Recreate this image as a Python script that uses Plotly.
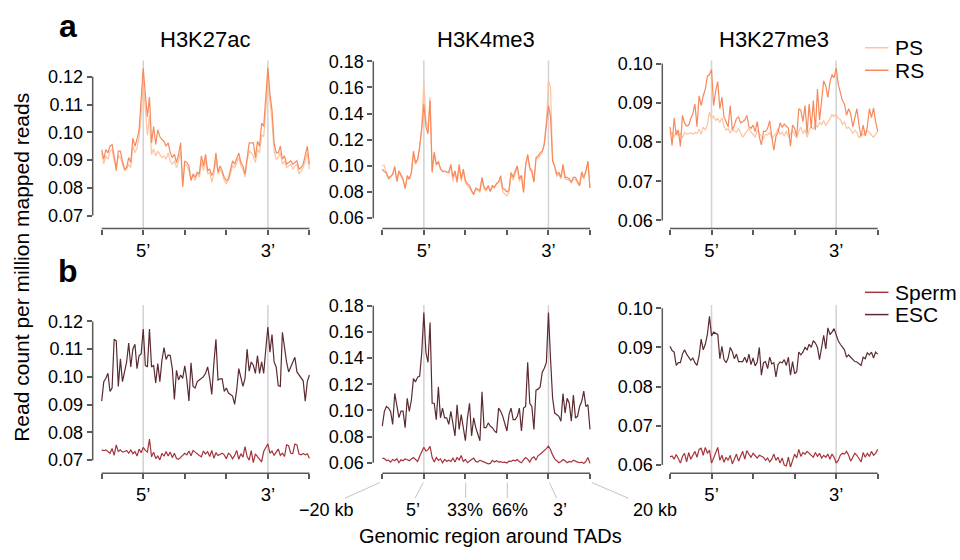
import numpy as np
import plotly.graph_objects as go

# Profiles are sampled on 101 bins: bin 0 = -20 kb, bin 20 = TAD 5' boundary,
# bin 40 / 60 = 33% / 66% of the TAD body, bin 80 = 3' boundary, bin 100 = +20 kb.
bins = [0, 20, 40, 60, 80, 100]
marks = ["", "5\u2019", "", "", "3\u2019", ""]

marks_names = ["H3K27ac", "H3K4me3", "H3K27me3"]

# ---- panel a: spermatocytes (PS) and round spermatids (RS) ----
h3k27ac_ps = [0.0926, 0.0885, 0.0915, 0.0903, 0.0932, 0.0938, 0.0897, 0.0873, 0.0915, 0.0909,
              0.0885, 0.0862, 0.0867, 0.0885, 0.0873, 0.0950, 0.0926, 0.0944, 0.0980, 0.1060,
              0.1180,
              0.1090, 0.0990, 0.1060, 0.0920, 0.0940, 0.0915, 0.0932, 0.0920, 0.0909, 0.0915,
              0.0903, 0.0926, 0.0897, 0.0885, 0.0897, 0.0873, 0.0897, 0.0932, 0.0815, 0.0885,
              0.0879, 0.0862, 0.0832, 0.0844, 0.0826, 0.0850, 0.0838, 0.0891, 0.0862, 0.0903,
              0.0850, 0.0856, 0.0820, 0.0850, 0.0903, 0.0850, 0.0867, 0.0850, 0.0826, 0.0815,
              0.0826, 0.0850, 0.0879, 0.0873, 0.0891, 0.0909, 0.0879, 0.0867, 0.0838, 0.0897,
              0.0932, 0.0926, 0.0915, 0.0891, 0.0938, 0.0926, 0.0990, 0.0985, 0.1080, 0.1200,
              0.1110, 0.1040, 0.0932, 0.0903, 0.0909, 0.0926, 0.0885, 0.0897, 0.0873, 0.0879,
              0.0885, 0.0867, 0.0879, 0.0885, 0.0850, 0.0862, 0.0873, 0.0897, 0.0926, 0.0867]
h3k27ac_rs = [0.0938, 0.0903, 0.0938, 0.0926, 0.0950, 0.0956, 0.0915, 0.0862, 0.0932, 0.0932,
              0.0897, 0.0867, 0.0873, 0.0909, 0.0891, 0.0979, 0.0950, 0.0974, 0.1009, 0.1103,
              0.1231,
              0.1139, 0.1056, 0.1127, 0.0962, 0.1021, 0.0956, 0.1009, 0.0985, 0.0974, 0.0968,
              0.0950, 0.0962, 0.0926, 0.0909, 0.0921, 0.0891, 0.0921, 0.0962, 0.0803, 0.0897,
              0.0891, 0.0879, 0.0826, 0.0850, 0.0838, 0.0856, 0.0850, 0.0915, 0.0879, 0.0921,
              0.0862, 0.0867, 0.0844, 0.0862, 0.0926, 0.0856, 0.0879, 0.0862, 0.0838, 0.0826,
              0.0832, 0.0862, 0.0897, 0.0885, 0.0909, 0.0926, 0.0891, 0.0879, 0.0850, 0.0915,
              0.0962, 0.0962, 0.0962, 0.0909, 0.0968, 0.0950, 0.1033, 0.1021, 0.1115, 0.1233,
              0.1139, 0.1080, 0.0962, 0.0926, 0.0926, 0.0950, 0.0903, 0.0915, 0.0885, 0.0891,
              0.0897, 0.0885, 0.0891, 0.0897, 0.0867, 0.0873, 0.0885, 0.0915, 0.0950, 0.0885]

h3k4me3_ps = [0.1000, 0.1005, 0.0930, 0.0900, 0.0915, 0.0930, 0.0990, 0.0885, 0.0950, 0.0920,
              0.0890, 0.0830, 0.0915, 0.0895, 0.0940, 0.1090, 0.1010, 0.1040, 0.1140, 0.1300,
              0.1650,
              0.1350, 0.1280, 0.1525, 0.0960, 0.1090, 0.1000, 0.1040, 0.0975, 0.0960, 0.0955,
              0.0950, 0.0945, 0.1000, 0.0880, 0.0955, 0.0870, 0.0990, 0.0880, 0.0960, 0.0870,
              0.0845, 0.0830, 0.0800, 0.0785, 0.0820, 0.0810, 0.0800, 0.0900, 0.0820, 0.0810,
              0.0840, 0.0800, 0.0840, 0.0830, 0.0870, 0.0880, 0.0890, 0.0800, 0.0785, 0.0770,
              0.0800, 0.0940, 0.0890, 0.0940, 0.0990, 0.0880, 0.0930, 0.0790, 0.1020, 0.1070,
              0.0970, 0.0950, 0.0880, 0.1050, 0.1060, 0.1080, 0.1100, 0.1180, 0.1340, 0.1650,
              0.1600, 0.1050, 0.0990, 0.0920, 0.0935, 0.0900, 0.0990, 0.0900, 0.0895, 0.0890,
              0.0870, 0.0900, 0.0895, 0.0870, 0.0845, 0.0935, 0.0900, 0.0950, 0.1020, 0.0830]
h3k4me3_rs = [0.0975, 0.0955, 0.0950, 0.0905, 0.0920, 0.0937, 0.0995, 0.0880, 0.0962, 0.0925,
              0.0900, 0.0825, 0.0925, 0.0900, 0.0950, 0.1112, 0.1025, 0.1050, 0.1150, 0.1287,
              0.1470,
              0.1300, 0.1245, 0.1500, 0.0950, 0.1105, 0.1012, 0.1030, 0.0980, 0.0955, 0.0962,
              0.0955, 0.0950, 0.1012, 0.0912, 0.0962, 0.0880, 0.1012, 0.0900, 0.0975, 0.0887,
              0.0862, 0.0850, 0.0812, 0.0780, 0.0830, 0.0820, 0.0812, 0.0912, 0.0837, 0.0820,
              0.0850, 0.0805, 0.0850, 0.0837, 0.0862, 0.0875, 0.0925, 0.0825, 0.0820, 0.0800,
              0.0812, 0.0950, 0.0912, 0.0962, 0.1000, 0.0900, 0.0925, 0.0800, 0.1000, 0.1087,
              0.0987, 0.0962, 0.0875, 0.1062, 0.1075, 0.1100, 0.1112, 0.1162, 0.1300, 0.1462,
              0.1375, 0.1037, 0.1000, 0.0937, 0.0950, 0.0912, 0.1012, 0.0912, 0.0912, 0.0900,
              0.0875, 0.0912, 0.0912, 0.0875, 0.0850, 0.0955, 0.0912, 0.0962, 0.1037, 0.0830]

h3k27me3_ps = [0.0818, 0.0825, 0.0812, 0.0830, 0.0815, 0.0822, 0.0810, 0.0825, 0.0820, 0.0822,
               0.0823, 0.0820, 0.0825, 0.0822, 0.0833, 0.0820, 0.0838, 0.0830, 0.0845, 0.0877,
               0.0860,
               0.0866, 0.0855, 0.0860, 0.0850, 0.0862, 0.0840, 0.0830, 0.0835, 0.0823, 0.0832,
               0.0828, 0.0825, 0.0835, 0.0822, 0.0812, 0.0820, 0.0828, 0.0835, 0.0825, 0.0820,
               0.0812, 0.0830, 0.0822, 0.0815, 0.0808, 0.0820, 0.0818, 0.0825, 0.0808, 0.0815,
               0.0822, 0.0835, 0.0820, 0.0825, 0.0815, 0.0828, 0.0812, 0.0820, 0.0830, 0.0818,
               0.0810, 0.0828, 0.0838, 0.0822, 0.0832, 0.0812, 0.0830, 0.0840, 0.0832, 0.0845,
               0.0838, 0.0850, 0.0845, 0.0855, 0.0842, 0.0850, 0.0862, 0.0870, 0.0865, 0.0870,
               0.0860, 0.0858, 0.0845, 0.0852, 0.0835, 0.0838, 0.0832, 0.0822, 0.0830, 0.0825,
               0.0810, 0.0820, 0.0818, 0.0822, 0.0830, 0.0825, 0.0818, 0.0812, 0.0822, 0.0828]
h3k27me3_rs = [0.0839, 0.0791, 0.0862, 0.0818, 0.0831, 0.0789, 0.0868, 0.0848, 0.0841, 0.0843,
               0.0860, 0.0872, 0.0897, 0.0839, 0.0918, 0.0893, 0.0918, 0.0935, 0.0968, 0.0972,
               0.0985,
               0.0893, 0.0931, 0.0954, 0.0885, 0.0914, 0.0864, 0.0852, 0.0839, 0.0893, 0.0831,
               0.0843, 0.0860, 0.0864, 0.0849, 0.0852, 0.0856, 0.0868, 0.0839, 0.0835, 0.0843,
               0.0827, 0.0852, 0.0814, 0.0793, 0.0827, 0.0827, 0.0835, 0.0854, 0.0814, 0.0779,
               0.0814, 0.0824, 0.0849, 0.0837, 0.0846, 0.0841, 0.0835, 0.0789, 0.0843, 0.0835,
               0.0814, 0.0885, 0.0881, 0.0852, 0.0893, 0.0822, 0.0897, 0.0835, 0.0906, 0.0831,
               0.0935, 0.0856, 0.0914, 0.0956, 0.0943, 0.0914, 0.0952, 0.0972, 0.0964, 0.0989,
               0.0947, 0.0922, 0.0906, 0.0897, 0.0868, 0.0885, 0.0872, 0.0839, 0.0860, 0.0885,
               0.0843, 0.0814, 0.0843, 0.0816, 0.0839, 0.0885, 0.0862, 0.0887, 0.0852, 0.0827]

# ---- panel b: sperm and embryonic stem cells (ESC) ----
h3k27ac_sperm = [0.0737, 0.0734, 0.0737, 0.0731, 0.0725, 0.0742, 0.0717, 0.0755, 0.0731, 0.0737,
                 0.0729, 0.0731, 0.0735, 0.0725, 0.0737, 0.0723, 0.0731, 0.0715, 0.0740, 0.0727,
                 0.0746,
                 0.0735, 0.0729, 0.0776, 0.0712, 0.0729, 0.0706, 0.0715, 0.0701, 0.0725, 0.0714,
                 0.0731, 0.0715, 0.0729, 0.0709, 0.0725, 0.0706, 0.0703, 0.0711, 0.0720, 0.0725,
                 0.0719, 0.0733, 0.0716, 0.0735, 0.0729, 0.0722, 0.0717, 0.0712, 0.0733, 0.0722,
                 0.0731, 0.0713, 0.0735, 0.0707, 0.0727, 0.0717, 0.0722, 0.0725, 0.0719, 0.0705,
                 0.0725, 0.0719, 0.0705, 0.0717, 0.0735, 0.0703, 0.0723, 0.0711, 0.0749, 0.0713,
                 0.0700, 0.0734, 0.0691, 0.0723, 0.0713, 0.0703, 0.0694, 0.0731, 0.0743, 0.0759,
                 0.0725, 0.0733, 0.0717, 0.0729, 0.0740, 0.0717, 0.0725, 0.0713, 0.0755, 0.0752,
                 0.0725, 0.0724, 0.0758, 0.0755, 0.0722, 0.0719, 0.0724, 0.0719, 0.0723, 0.0707]
h3k27ac_esc = [0.0913, 0.0983, 0.0995, 0.1013, 0.0948, 0.0960, 0.1136, 0.1130, 0.0966, 0.1065,
               0.0983, 0.1024, 0.1054, 0.1122, 0.1036, 0.1100, 0.1118, 0.1030, 0.1077, 0.1083,
               0.1173,
               0.1042, 0.1036, 0.1173, 0.1036, 0.1042, 0.0978, 0.1048, 0.0983, 0.1059, 0.1106,
               0.1063, 0.1079, 0.1077, 0.1030, 0.0919, 0.1024, 0.0989, 0.1007, 0.0995, 0.1040,
               0.0989, 0.0913, 0.1051, 0.0966, 0.0960, 0.0983, 0.0989, 0.0995, 0.1001, 0.1013,
               0.1036, 0.0995, 0.0937, 0.1048, 0.1136, 0.0989, 0.0993, 0.0993, 0.0948, 0.0960,
               0.0942, 0.0937, 0.0931, 0.0901, 0.0954, 0.1030, 0.0995, 0.0966, 0.0995, 0.1100,
               0.1021, 0.1054, 0.1042, 0.1013, 0.1077, 0.1013, 0.1054, 0.1013, 0.1100, 0.1180,
               0.1089, 0.1153, 0.1054, 0.1036, 0.0969, 0.0966, 0.1161, 0.1100, 0.1054, 0.1018,
               0.1036, 0.1048, 0.1071, 0.1018, 0.1007, 0.0997, 0.0986, 0.0913, 0.0983, 0.1007]

h3k4me3_sperm = [0.0635, 0.0632, 0.0617, 0.0620, 0.0605, 0.0625, 0.0615, 0.0630, 0.0600, 0.0622,
                 0.0615, 0.0630, 0.0625, 0.0615, 0.0628, 0.0640, 0.0625, 0.0610, 0.0650, 0.0680,
                 0.0718,
                 0.0690, 0.0700, 0.0725, 0.0640, 0.0605, 0.0640, 0.0618, 0.0630, 0.0600, 0.0625,
                 0.0612, 0.0620, 0.0610, 0.0635, 0.0605, 0.0640, 0.0622, 0.0655, 0.0610, 0.0625,
                 0.0600, 0.0615, 0.0625, 0.0635, 0.0610, 0.0605, 0.0620, 0.0612, 0.0605, 0.0600,
                 0.0592, 0.0595, 0.0618, 0.0605, 0.0615, 0.0605, 0.0608, 0.0602, 0.0605, 0.0598,
                 0.0612, 0.0610, 0.0620, 0.0615, 0.0625, 0.0608, 0.0600, 0.0622, 0.0640, 0.0628,
                 0.0605, 0.0635, 0.0645, 0.0620, 0.0655, 0.0665, 0.0680, 0.0690, 0.0708, 0.0728,
                 0.0700, 0.0660, 0.0630, 0.0615, 0.0600, 0.0610, 0.0625, 0.0615, 0.0600, 0.0610,
                 0.0605, 0.0620, 0.0610, 0.0605, 0.0600, 0.0605, 0.0595, 0.0610, 0.0640, 0.0595]
h3k4me3_esc = [0.0880, 0.0993, 0.1030, 0.1018, 0.0993, 0.0893, 0.1130, 0.1030, 0.0945, 0.0995,
               0.0995, 0.0868, 0.1093, 0.0993, 0.1080, 0.1243, 0.1218, 0.1255, 0.1263, 0.1443,
               0.1748,
               0.1443, 0.1368, 0.1673, 0.1055, 0.1055, 0.0930, 0.1180, 0.0943, 0.1018, 0.0943,
               0.0943, 0.0893, 0.0993, 0.0880, 0.0805, 0.1043, 0.0855, 0.0968, 0.0868, 0.0768,
               0.0943, 0.1055, 0.0805, 0.0943, 0.0868, 0.0818, 0.0768, 0.1143, 0.0868, 0.0868,
               0.0905, 0.0880, 0.0868, 0.0843, 0.0830, 0.1018, 0.0993, 0.0955, 0.0893, 0.0843,
               0.0968, 0.1018, 0.0930, 0.0930, 0.0955, 0.1018, 0.0843, 0.1018, 0.1030, 0.1368,
               0.1055, 0.1030, 0.0855, 0.1155, 0.1163, 0.1180, 0.1293, 0.1323, 0.1368, 0.1748,
               0.1393, 0.1093, 0.0980, 0.0968, 0.0955, 0.0918, 0.1130, 0.0980, 0.1093, 0.1055,
               0.0918, 0.1118, 0.0943, 0.0955, 0.1030, 0.1068, 0.1148, 0.1030, 0.1043, 0.0855]

h3k27me3_sperm = [0.0621, 0.0623, 0.0615, 0.0627, 0.0617, 0.0605, 0.0622, 0.0630, 0.0608, 0.0632,
                  0.0615, 0.0625, 0.0635, 0.0620, 0.0640, 0.0643, 0.0625, 0.0645, 0.0630, 0.0638,
                  0.0605,
                  0.0618, 0.0630, 0.0645, 0.0612, 0.0625, 0.0607, 0.0620, 0.0612, 0.0625, 0.0603,
                  0.0615, 0.0628, 0.0610, 0.0622, 0.0635, 0.0615, 0.0637, 0.0628, 0.0620, 0.0630,
                  0.0625, 0.0618, 0.0625, 0.0622, 0.0620, 0.0612, 0.0618, 0.0608, 0.0615, 0.0628,
                  0.0612, 0.0620, 0.0605, 0.0618, 0.0600, 0.0598, 0.0620, 0.0595, 0.0612, 0.0628,
                  0.0618, 0.0640, 0.0622, 0.0632, 0.0628, 0.0635, 0.0630, 0.0625, 0.0620, 0.0632,
                  0.0622, 0.0630, 0.0618, 0.0625, 0.0620, 0.0628, 0.0615, 0.0628, 0.0620, 0.0605,
                  0.0612, 0.0625, 0.0630, 0.0628, 0.0635, 0.0625, 0.0610, 0.0620, 0.0630, 0.0625,
                  0.0618, 0.0608, 0.0632, 0.0620, 0.0630, 0.0622, 0.0635, 0.0625, 0.0630, 0.0640]
h3k27me3_esc = [0.0903, 0.0892, 0.0888, 0.0854, 0.0861, 0.0861, 0.0883, 0.0894, 0.0883, 0.0875,
                0.0867, 0.0873, 0.0861, 0.0854, 0.0879, 0.0921, 0.0894, 0.0908, 0.0933, 0.0979,
                0.0929,
                0.0939, 0.0936, 0.0933, 0.0871, 0.0903, 0.0869, 0.0861, 0.0873, 0.0900, 0.0889,
                0.0871, 0.0883, 0.0864, 0.0864, 0.0864, 0.0875, 0.0861, 0.0883, 0.0856, 0.0873,
                0.0853, 0.0863, 0.0900, 0.0829, 0.0861, 0.0864, 0.0846, 0.0875, 0.0858, 0.0861,
                0.0825, 0.0856, 0.0863, 0.0861, 0.0869, 0.0854, 0.0875, 0.0829, 0.0864, 0.0833,
                0.0838, 0.0888, 0.0881, 0.0888, 0.0900, 0.0894, 0.0908, 0.0900, 0.0917, 0.0911,
                0.0900, 0.0869, 0.0900, 0.0931, 0.0896, 0.0950, 0.0933, 0.0939, 0.0948, 0.0933,
                0.0917, 0.0908, 0.0900, 0.0894, 0.0875, 0.0881, 0.0875, 0.0869, 0.0864, 0.0863,
                0.0858, 0.0854, 0.0875, 0.0871, 0.0886, 0.0881, 0.0888, 0.0873, 0.0888, 0.0883]

# y-axis tick values per histone mark
yticks = {
    "H3K27ac": [0.07, 0.08, 0.09, 0.10, 0.11, 0.12],
    "H3K4me3": [0.06, 0.08, 0.10, 0.12, 0.14, 0.16, 0.18],
    "H3K27me3": [0.06, 0.07, 0.08, 0.09, 0.10],
}
yranges = {
    "H3K27ac": [0.0653, 0.1259],
    "H3K4me3": [0.0520, 0.1806],
    "H3K27me3": [0.05793, 0.1008],
}

# colours
C_PS, C_RS = "#fdc4a0", "#f7895c"
C_SPERM, C_ESC = "#a5343c", "#5b2b30"
AXIS = "#5a5a5a"
FONT = "Liberation Sans, Arial, sans-serif"

W, H = 960, 560


def fx(p):
    return p / W


def fy(p):
    return 1 - p / H


# layout geometry (pixels)
col_axis_x = [92.7, 373.3, 662.3]      # y-axis position of each column
col_first_tick = [101.7, 382.3, 670.0]  # pixel of bin 0
px_per_bin = 2.077
xmax = 101.5
row_top = [52.5, 302.0]
row_bottom = [224.0, 473.5]

rows = [
    [(h3k27ac_ps, h3k27ac_rs), (h3k4me3_ps, h3k4me3_rs), (h3k27me3_ps, h3k27me3_rs)],
    [(h3k27ac_sperm, h3k27ac_esc), (h3k4me3_sperm, h3k4me3_esc), (h3k27me3_sperm, h3k27me3_esc)],
]
row_colors = [(C_PS, C_RS), (C_SPERM, C_ESC)]
row_names = [("PS", "RS"), ("Sperm", "ESC")]

fig = go.Figure()
shapes = []
annotations = []

k = 0
for r in range(2):
    for c in range(3):
        k += 1
        sfx = "" if k == 1 else str(k)
        mark = marks_names[c]
        xmin = -(col_first_tick[c] - col_axis_x[c]) / px_per_bin
        dom_x = [fx(col_axis_x[c]), fx(col_first_tick[c] + xmax * px_per_bin)]
        dom_y = [fy(row_bottom[r]), fy(row_top[r])]

        for series, color, name in zip(rows[r][c], row_colors[r], row_names[r]):
            fig.add_trace(go.Scatter(
                x=np.linspace(0, 100, len(series)), y=series,
                mode="lines", name=name, showlegend=False,
                line=dict(color=color, width=1.2),
                xaxis="x" + sfx, yaxis="y" + sfx,
                hovertemplate=name + ": %{y:.4f}<extra></extra>",
            ))

        show_marks = not (r == 1 and c == 1)
        fig.layout["xaxis" + sfx] = dict(
            domain=dom_x, range=[xmin, xmax], anchor="y" + sfx,
            showgrid=False, zeroline=False, showline=False,
            tickmode="array", tickvals=bins,
            ticktext=marks if show_marks else [""] * len(bins),
            ticks="outside", ticklen=5, tickwidth=1.5, tickcolor=AXIS,
            tickfont=dict(family=FONT, size=18.5, color="#000"),
            ticklabelstandoff=0,
            fixedrange=True,
        )
        fig.layout["yaxis" + sfx] = dict(
            domain=dom_y, range=yranges[mark], anchor="x" + sfx,
            showgrid=False, zeroline=False, showline=False,
            tickmode="array", tickvals=yticks[mark],
            ticktext=["%.2f" % v for v in yticks[mark]],
            ticks="outside", ticklen=5, tickwidth=1.5, tickcolor=AXIS,
            tickfont=dict(family=FONT, size=18, color="#000"),
            ticklabelstandoff=0,
            fixedrange=True,
        )

        xr, yr = "x" + sfx, "y" + sfx
        # boundary guides at the 5' and 3' ends of the TAD
        for b in (20, 80):
            shapes.append(dict(type="line", xref=xr, yref=yr + " domain",
                               x0=b, x1=b, y0=0, y1=1, layer="below",
                               line=dict(color="#d2d2d2", width=1.5)))
        # axis lines spanning only the tick range
        yt = yticks[mark]
        shapes.append(dict(type="line", xref=xr + " domain", yref=yr,
                           x0=0, x1=0, y0=yt[0], y1=yt[-1],
                           line=dict(color=AXIS, width=1.5)))
        shapes.append(dict(type="line", xref=xr, yref=yr + " domain",
                           x0=0, x1=100, y0=0, y1=0,
                           line=dict(color=AXIS, width=1.5)))

        if r == 0:
            annotations.append(dict(text=mark, xref="paper", yref="paper",
                                    x=fx(col_first_tick[c] + 50 * px_per_bin), y=fy(31.5),
                                    xanchor="center", yanchor="middle", showarrow=False,
                                    font=dict(family=FONT, size=22, color="#000")))

# expanded position key under the bottom-middle panel
key_labels = ["\u221220 kb", "5\u2019", "33%", "66%", "3\u2019", "20 kb"]
key_top = [380.0, 423.3, 465.7, 507.3, 549.3, 591.7]
key_bottom = [345.0, 415.0, 465.7, 507.3, 556.7, 628.3]
key_text_x = [326.7, 413.3, 465.0, 510.0, 560.0, 655.0]
for lab, x0, x1, xt in zip(key_labels, key_top, key_bottom, key_text_x):
    shapes.append(dict(type="line", xref="paper", yref="paper",
                       x0=fx(x0), x1=fx(x1), y0=fy(483.0), y1=fy(499.0),
                       line=dict(color="#c4c4c4", width=1)))
    annotations.append(dict(text=lab, xref="paper", yref="paper", x=fx(xt), y=fy(511.5),
                            xanchor="center", yanchor="middle", showarrow=False,
                            font=dict(family=FONT, size=18, color="#000")))

# series keys
for (names, colors, ys) in [(row_names[0], row_colors[0], (39.5, 62.5)),
                            (row_names[1], row_colors[1], (289.0, 311.7))]:
    for name, color, yy in zip(names, colors, ys):
        shapes.append(dict(type="line", xref="paper", yref="paper",
                           x0=fx(865.0), x1=fx(888.5), y0=fy(yy), y1=fy(yy),
                           line=dict(color=color, width=1.5)))
        annotations.append(dict(text=name, xref="paper", yref="paper",
                                x=fx(892.5), y=fy(yy), xanchor="left", yanchor="middle",
                                showarrow=False,
                                font=dict(family=FONT, size=21, color="#000")))

# panel letters, shared axis titles
annotations += [
    dict(text="<b>a</b>", xref="paper", yref="paper", x=fx(68), y=fy(17.5),
         xanchor="center", yanchor="middle", showarrow=False,
         font=dict(family=FONT, size=32, color="#000")),
    dict(text="<b>b</b>", xref="paper", yref="paper", x=fx(68), y=fy(267.5),
         xanchor="center", yanchor="middle", showarrow=False,
         font=dict(family=FONT, size=32, color="#000")),
    dict(text="Read count per million mapped reads", xref="paper", yref="paper",
         x=fx(22), y=fy(264), textangle=-90, xanchor="center", yanchor="middle",
         showarrow=False, font=dict(family=FONT, size=21, color="#000")),
    dict(text="Genomic region around TADs", xref="paper", yref="paper",
         x=fx(490.5), y=fy(537.5), xanchor="center", yanchor="middle",
         showarrow=False, font=dict(family=FONT, size=20, color="#000")),
]

fig.update_layout(
    width=W, height=H, margin=dict(l=0, r=0, t=0, b=0),
    paper_bgcolor="white", plot_bgcolor="white",
    shapes=shapes, annotations=annotations, showlegend=False,
)

fig.write_html("out.html")
